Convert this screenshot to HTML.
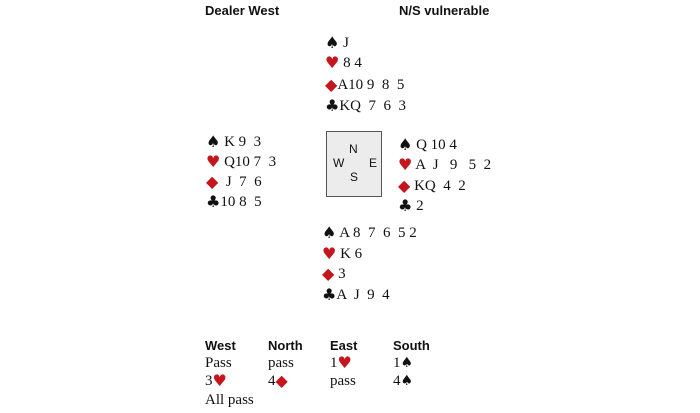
<!DOCTYPE html>
<html><head><meta charset="utf-8"><style>
body{margin:0;width:700px;height:413px;background:#fff;position:relative;overflow:hidden;font-family:"Liberation Serif",serif;font-size:15px;color:#111}
.a{position:absolute;white-space:pre;line-height:18px;height:18px}
.h{font-family:"Liberation Sans",sans-serif;font-weight:bold;font-size:13px}
.r{color:#c4161c}
.s{font-family:"DejaVu Sans",sans-serif;font-size:16px;line-height:18px;display:inline-block;vertical-align:top}
.t{font-family:"DejaVu Sans",sans-serif;font-size:14px;line-height:18px;display:inline-block;vertical-align:top}
.box{position:absolute;left:326px;top:131px;width:54px;height:64px;border:1.5px solid #555;background:#ececec;font-family:"Liberation Sans",sans-serif;font-size:12px}
.box span{position:absolute}
</style></head><body>
<div class="a h" style="left:205px;top:2px">Dealer West</div>
<div class="a h" style="left:399px;top:2px">N/S vulnerable</div>

<div class="a" style="left:325px;top:34px"><span class="s">♠</span> J</div>
<div class="a" style="left:325px;top:54px"><span class="s r">♥</span> 8 4</div>
<div class="a" style="left:325px;top:76px"><span class="s r">◆</span>A10 9  8  5</div>
<div class="a" style="left:325px;top:97px"><span class="s">♣</span>KQ  7  6  3</div>

<div class="a" style="left:206px;top:133px"><span class="s">♠</span> K 9  3</div>
<div class="a" style="left:206px;top:153px"><span class="s r">♥</span> Q10 7  3</div>
<div class="a" style="left:206px;top:173px"><span class="s r">◆</span>  J  7  6</div>
<div class="a" style="left:206px;top:193px"><span class="s">♣</span>10 8  5</div>

<div class="box"><span style="left:22px;top:10px">N</span><span style="left:6px;top:24px">W</span><span style="left:42px;top:24px">E</span><span style="left:23px;top:38px">S</span></div>

<div class="a" style="left:398px;top:136px"><span class="s">♠</span> Q 10 4</div>
<div class="a" style="left:398px;top:156px"><span class="s r">♥</span> A  J   9   5  2</div>
<div class="a" style="left:398px;top:177px"><span class="s r">◆</span> KQ  4  2</div>
<div class="a" style="left:398px;top:197px"><span class="s">♣</span> 2</div>

<div class="a" style="left:322px;top:224px"><span class="s">♠</span> A 8  7  6  5 2</div>
<div class="a" style="left:322px;top:245px"><span class="s r">♥</span> K 6</div>
<div class="a" style="left:322px;top:265px"><span class="s r">◆</span> 3</div>
<div class="a" style="left:322px;top:286px"><span class="s">♣</span>A  J  9  4</div>

<div class="a h" style="left:205px;top:337px">West</div>
<div class="a h" style="left:268px;top:337px">North</div>
<div class="a h" style="left:330px;top:337px">East</div>
<div class="a h" style="left:393px;top:337px">South</div>
<div class="a" style="left:205px;top:354px">Pass</div>
<div class="a" style="left:268px;top:354px">pass</div>
<div class="a" style="left:330px;top:354px">1<span class="s r">♥</span></div>
<div class="a" style="left:393px;top:354px">1<span class="t">♠</span></div>
<div class="a" style="left:205px;top:372px">3<span class="s r">♥</span></div>
<div class="a" style="left:268px;top:372px">4<span class="s r">◆</span></div>
<div class="a" style="left:330px;top:372px">pass</div>
<div class="a" style="left:393px;top:372px">4<span class="t">♠</span></div>
<div class="a" style="left:205px;top:391px">All pass</div>
</body></html>
